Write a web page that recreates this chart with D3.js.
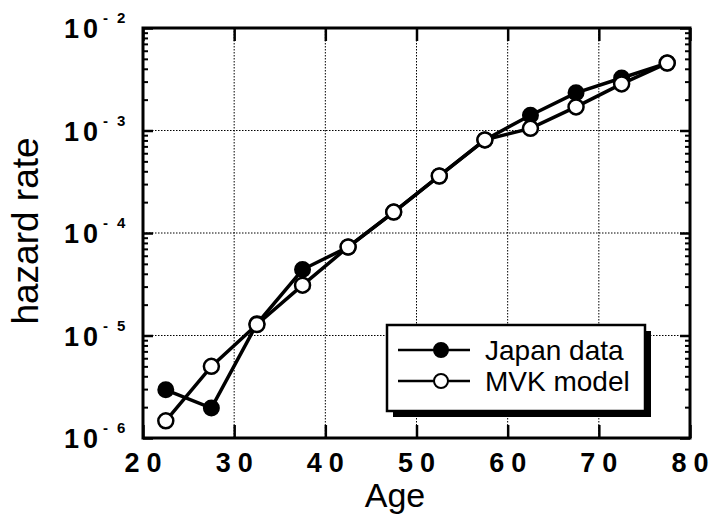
<!DOCTYPE html>
<html><head><meta charset="utf-8">
<script src="https://cdn.jsdelivr.net/npm/d3@7"></script>
<style>body{margin:0;background:#fff}svg{display:block}</style>
</head><body>
<svg id="c" width="710" height="520"></svg>
<script>
const ages  = [22.5,27.5,32.5,37.5,42.5,47.5,52.5,57.5,62.5,67.5,72.5,77.5];
const japan = [2.95e-6,1.96e-6,1.3e-5,4.4e-5,7.3e-5,1.6e-4,3.6e-4,8.1e-4,1.41e-3,2.33e-3,3.25e-3,4.55e-3];
const mvk   = [1.47e-6,5.0e-6,1.28e-5,3.1e-5,7.3e-5,1.6e-4,3.6e-4,8.1e-4,1.05e-3,1.7e-3,2.85e-3,4.55e-3];
const xTicks = [20,30,40,50,60,70,80];
const xTickLabels = ["20","30","40","50","60","70","80"];
const yTicks = [1e-2,1e-3,1e-4,1e-5,1e-6];
const yTickExps = ["2","3","4","5","6"];
const seriesNames = ["Japan data","MVK model"];
const xTitle = "Age", yTitle = "hazard rate";

const svg = d3.select("#c");
const L=143,R=690,T=28,B=438;
const x = d3.scaleLinear().domain([20,80]).range([L,R]);
const y = d3.scaleLog().domain([1e-6,1e-2]).range([B,T]);
const font = "'Liberation Sans', Arial, Helvetica, sans-serif";

// grid
const g = svg.append("g");
g.selectAll(".vg").data(xTicks.slice(1,-1)).join("line")
  .attr("x1",d=>x(d)).attr("x2",d=>x(d)).attr("y1",T).attr("y2",B)
  .attr("stroke","#000").attr("stroke-width",1).attr("stroke-dasharray","1.5,1.5");
g.selectAll(".hg").data(yTicks.slice(1,-1)).join("line")
  .attr("y1",d=>y(d)).attr("y2",d=>y(d)).attr("x1",L).attr("x2",R)
  .attr("stroke","#000").attr("stroke-width",1).attr("stroke-dasharray","1.5,1.5");

// minor log ticks
const minor = [];
for (let e=-6;e<-2;e++) for (let m=2;m<=9;m++) minor.push(m*Math.pow(10,e));
function axisStyle(sel){ sel.select(".domain").remove(); sel.selectAll("text").remove(); sel.selectAll("line").attr("stroke","#000"); }
svg.append("g").attr("transform",`translate(${L},0)`)
  .call(d3.axisLeft(y).tickValues(minor).tickSize(-5).tickFormat("")).call(axisStyle).selectAll("line").attr("stroke-width",2);
svg.append("g").attr("transform",`translate(${R},0)`)
  .call(d3.axisRight(y).tickValues(minor).tickSize(-5).tickFormat("")).call(axisStyle).selectAll("line").attr("stroke-width",2);
svg.append("g").attr("transform",`translate(${L},0)`)
  .call(d3.axisLeft(y).tickValues(yTicks).tickSize(-10).tickFormat("")).call(axisStyle).selectAll("line").attr("stroke-width",2.5);
svg.append("g").attr("transform",`translate(${R},0)`)
  .call(d3.axisRight(y).tickValues(yTicks).tickSize(-10).tickFormat("")).call(axisStyle).selectAll("line").attr("stroke-width",2.5);
svg.append("g").attr("transform",`translate(0,${B})`)
  .call(d3.axisBottom(x).tickValues(xTicks).tickSize(-13).tickFormat("")).call(axisStyle).selectAll("line").attr("stroke-width",2.5);
svg.append("g").attr("transform",`translate(0,${T})`)
  .call(d3.axisTop(x).tickValues(xTicks).tickSize(-13).tickFormat("")).call(axisStyle).selectAll("line").attr("stroke-width",2.5);

// frame
svg.append("rect").attr("x",L).attr("y",T).attr("width",R-L).attr("height",B-T)
  .attr("fill","none").attr("stroke","#000").attr("stroke-width",3);

// x tick labels (spaced digits via tspans, no trailing spacing)
xTicks.forEach((d,i)=>{
  const lab = xTickLabels[i];
  const t = svg.append("text").attr("x",x(d)).attr("y",472).attr("text-anchor","middle")
    .attr("font-family",font).attr("font-weight","bold").attr("font-size",27);
  lab.split("").forEach((ch,k)=>{ t.append("tspan").attr("dx",k?7:0).text(ch); });
});
// y tick labels
yTicks.forEach((d,i)=>{
  const yy = y(d);
  const t = svg.append("text").attr("x",98).attr("y",yy+10).attr("text-anchor","end")
    .attr("font-family",font).attr("font-weight","bold").attr("font-size",27);
  t.append("tspan").text("1"); t.append("tspan").attr("dx",4).text("0");
  svg.append("text").attr("x",103).attr("y",yy-5)
    .attr("font-family",font).attr("font-weight","bold").attr("font-size",15).text("-");
  svg.append("text").attr("x",117).attr("y",yy-5)
    .attr("font-family",font).attr("font-weight","bold").attr("font-size",15).text(yTickExps[i]);
});

// titles
svg.append("text").attr("x",395).attr("y",507).attr("text-anchor","middle")
  .attr("font-family",font).attr("font-size",34).text(xTitle);
svg.append("text").attr("transform","translate(38,231) rotate(-90)").attr("text-anchor","middle")
  .attr("font-family",font).attr("font-size",37).text(yTitle);

// series
const line = d3.line().x((d,i)=>x(ages[i])).y(d=>y(d));
svg.append("path").datum(japan).attr("d",line).attr("fill","none").attr("stroke","#000").attr("stroke-width",3.5);
svg.append("path").datum(mvk).attr("d",line).attr("fill","none").attr("stroke","#000").attr("stroke-width",3.5);
svg.selectAll(".pj").data(japan).join("circle")
  .attr("cx",(d,i)=>x(ages[i])).attr("cy",d=>y(d)).attr("r",7.5)
  .attr("fill","#000").attr("stroke","#000").attr("stroke-width",2);
svg.selectAll(".pm").data(mvk).join("circle")
  .attr("cx",(d,i)=>x(ages[i])).attr("cy",d=>y(d)).attr("r",7.5)
  .attr("fill","#fff").attr("stroke","#000").attr("stroke-width",2.5);

// legend
const lg = svg.append("g");
lg.append("rect").attr("x",393).attr("y",331).attr("width",258).attr("height",86).attr("fill","#000");
lg.append("rect").attr("x",387).attr("y",325).attr("width",258).attr("height",86)
  .attr("fill","#fff").attr("stroke","#000").attr("stroke-width",2.5);
seriesNames.forEach((name,i)=>{
  const yy = 350 + i*31;
  lg.append("line").attr("x1",398).attr("x2",470).attr("y1",yy).attr("y2",yy).attr("stroke","#000").attr("stroke-width",2.5);
  lg.append("circle").attr("cx",441).attr("cy",yy).attr("r",7)
    .attr("fill", i===0?"#000":"#fff").attr("stroke","#000").attr("stroke-width",2);
  lg.append("text").attr("x",485).attr("y",yy+10).attr("font-family",font).attr("font-size",28).text(name);
});
</script>
</body></html>
